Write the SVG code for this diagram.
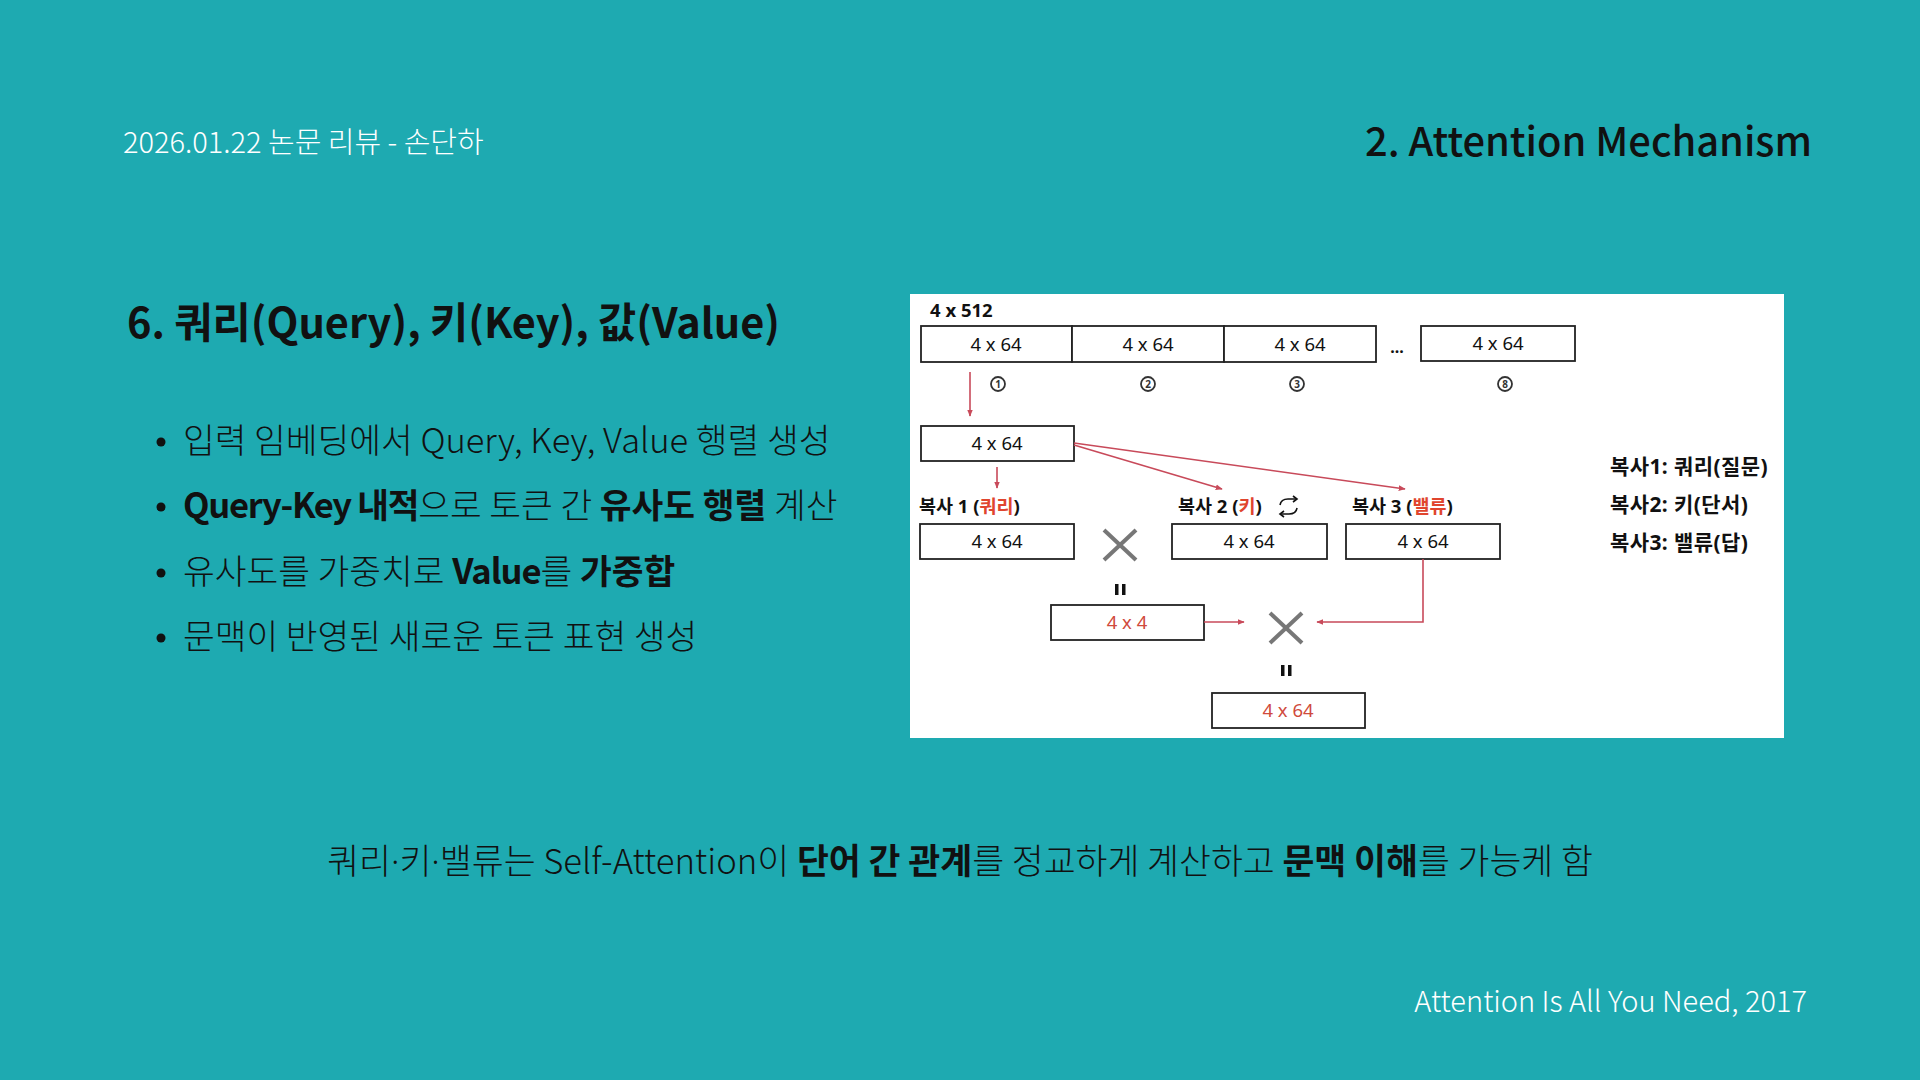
<svg xmlns="http://www.w3.org/2000/svg" width="1920" height="1080" viewBox="0 0 1920 1080">
<defs>
<style>
.kr{font-family:"Noto Sans CJK KR","Noto Sans",sans-serif;}
.dg{font-family:"Noto Sans","Noto Sans CJK KR",sans-serif;}
.box{fill:#fff;stroke:#222;stroke-width:1.8;}
.bt{font-size:18.5px;fill:#111;text-anchor:middle;}
.rt{font-size:18.5px;fill:#D04A3C;text-anchor:middle;}
.lbl{font-size:18.5px;font-weight:700;fill:#111;}
.red{fill:#E0452E;}
.conn{fill:none;stroke:#C84A5A;stroke-width:1.6;}
.times{stroke:#777;stroke-width:4;stroke-linecap:butt;}
.num{fill:none;stroke:#333;stroke-width:1.8;}
.numt{font-size:10px;font-weight:700;fill:#333;text-anchor:middle;}
.eq{fill:#111;}
.bul{font-size:34.5px;fill:#111;}
.leg{font-size:21px;font-weight:700;fill:#111;letter-spacing:0.4px;}
.dot{font-family:"Noto Sans",sans-serif;}
</style>
<marker id="ah" viewBox="0 0 10 10" refX="9" refY="5" markerWidth="7" markerHeight="7" orient="auto" markerUnits="userSpaceOnUse">
<path d="M0,1 L10,5 L0,9 Z" fill="#C84A5A"/>
</marker>
</defs>
<rect width="1920" height="1080" fill="#1EAAB1"/>

<g id="header">
<text class="kr" x="123" y="153" font-size="29" font-weight="300" fill="#fff">2026.01.22 논문 리뷰 - 손단하</text>
<text class="kr" x="1812" y="156" font-size="39.8" font-weight="500" fill="#111" text-anchor="end">2. Attention Mechanism</text>
</g>

<g id="section-title">
<text class="kr" x="127" y="338" font-size="41.5" font-weight="700" fill="#111">6. 쿼리(Query), 키(Key), 값(Value)</text>
</g>

<g id="bullets" class="kr">
<circle cx="161" cy="442" r="4.5" fill="#111"/>
<text class="bul" x="183" y="453" font-weight="300">입력 임베딩에서 Query, Key, Value 행렬 생성</text>
<circle cx="161" cy="507" r="4.5" fill="#111"/>
<text class="bul" x="183" y="518" font-weight="300"><tspan font-weight="700" letter-spacing="-1.3">Query-Key 내적</tspan>으로 토큰 간 <tspan font-weight="700">유사도 행렬</tspan> 계산</text>
<circle cx="161" cy="573" r="4.5" fill="#111"/>
<text class="bul" x="183" y="584" font-weight="300">유사도를 가중치로 <tspan font-weight="700" letter-spacing="-1">Value</tspan>를 <tspan font-weight="700">가중합</tspan></text>
<circle cx="161" cy="638" r="4.5" fill="#111"/>
<text class="bul" x="183" y="649" font-weight="300">문맥이 반영된 새로운 토큰 표현 생성</text>
</g>

<g id="diagram-panel">
<rect x="910" y="294" width="874" height="444" fill="#fff"/>
</g>

<g id="input-row" class="dg">
<text x="930" y="317" font-size="18.5" font-weight="700" fill="#111">4 x 512</text>
<rect class="box" x="921" y="326" width="151" height="36"/>
<rect class="box" x="1072" y="326" width="152" height="36"/>
<rect class="box" x="1224" y="326" width="152" height="36"/>
<text class="bt" x="996" y="351">4 x 64</text>
<text class="bt" x="1148" y="351">4 x 64</text>
<text class="bt" x="1300" y="351">4 x 64</text>
<text x="1397" y="353" font-size="16" font-weight="700" fill="#111" text-anchor="middle">...</text>
<rect class="box" x="1421" y="326" width="154" height="35"/>
<text class="bt" x="1498" y="350">4 x 64</text>
</g>

<g id="head-numbers" class="dg">
<circle class="num" cx="998" cy="384" r="7"/><text class="numt" x="998" y="388">1</text>
<circle class="num" cx="1148" cy="384" r="7"/><text class="numt" x="1148" y="388">2</text>
<circle class="num" cx="1297" cy="384" r="7"/><text class="numt" x="1297" y="388">3</text>
<circle class="num" cx="1505" cy="384" r="7"/><text class="numt" x="1505" y="388">8</text>
</g>

<g id="head1" class="dg">
<rect class="box" x="921" y="426" width="153" height="35"/>
<text class="bt" x="997" y="450">4 x 64</text>
</g>

<g id="copy1" class="dg">
<text class="lbl" x="919" y="513">복사 1 (<tspan class="red">쿼리</tspan>)</text>
<rect class="box" x="920" y="524" width="154" height="35"/>
<text class="bt" x="997" y="548">4 x 64</text>
</g>

<g id="copy2" class="dg">
<text class="lbl" x="1178" y="513">복사 2 (<tspan class="red">키</tspan>)</text>
<rect class="box" x="1172" y="524" width="155" height="35"/>
<text class="bt" x="1249" y="548">4 x 64</text>
<g id="swap-icon" fill="none" stroke="#111" stroke-width="1.6">
<path d="M1280,505 Q1281,499 1288,499 L1296,499"/>
<path d="M1293,496 L1297,499 L1293,502"/>
<path d="M1297,508 Q1296,514 1289,514 L1281,514"/>
<path d="M1284,511 L1280,514 L1284,517"/>
</g>
</g>

<g id="copy3" class="dg">
<text class="lbl" x="1352" y="513">복사 3 (<tspan class="red">밸류</tspan>)</text>
<rect class="box" x="1346" y="524" width="154" height="35"/>
<text class="bt" x="1423" y="548">4 x 64</text>
</g>

<g id="mult1">
<line class="times" x1="1104" y1="530" x2="1136" y2="560"/>
<line class="times" x1="1136" y1="530" x2="1104" y2="560"/>
<rect class="eq" x="1115" y="584" width="3.5" height="11"/>
<rect class="eq" x="1122" y="584" width="3.5" height="11"/>
</g>

<g id="scores" class="dg">
<rect class="box" x="1051" y="605" width="153" height="35"/>
<text class="rt" x="1127" y="629">4 x 4</text>
</g>

<g id="mult2">
<line class="times" x1="1270" y1="613" x2="1302" y2="643"/>
<line class="times" x1="1302" y1="613" x2="1270" y2="643"/>
<rect class="eq" x="1281" y="665" width="3.5" height="11"/>
<rect class="eq" x="1288" y="665" width="3.5" height="11"/>
</g>

<g id="output" class="dg">
<rect class="box" x="1212" y="693" width="153" height="35"/>
<text class="rt" x="1288" y="717">4 x 64</text>
</g>

<g id="legend" class="dg">
<text class="leg" x="1610" y="474">복사1:  쿼리(질문)</text>
<text class="leg" x="1610" y="512">복사2: 키(단서)</text>
<text class="leg" x="1610" y="550">복사3: 밸류(답)</text>
</g>

<g id="connectors">
<line class="conn" x1="970" y1="372" x2="970" y2="416" marker-end="url(#ah)"/>
<line class="conn" x1="997" y1="467" x2="997" y2="488" marker-end="url(#ah)"/>
<line class="conn" x1="1074" y1="445" x2="1222" y2="489" marker-end="url(#ah)"/>
<line class="conn" x1="1074" y1="443" x2="1405" y2="489" marker-end="url(#ah)"/>
<line class="conn" x1="1204" y1="622" x2="1244" y2="622" marker-end="url(#ah)"/>
<polyline class="conn" points="1423,559 1423,622 1317,622" marker-end="url(#ah)"/>
</g>

<g id="footer">
<text class="kr" x="960" y="874" font-size="34.7" font-weight="300" fill="#111" text-anchor="middle">쿼리<tspan class="dot">·</tspan>키<tspan class="dot">·</tspan>밸류는 Self-Attention이 <tspan font-weight="700">단어 간 관계</tspan>를 정교하게 계산하고 <tspan font-weight="700">문맥 이해</tspan>를 가능케 함</text>
<text class="kr" x="1807" y="1012" font-size="29" font-weight="300" fill="#fff" text-anchor="end">Attention Is All You Need, 2017</text>
</g>
</svg>
